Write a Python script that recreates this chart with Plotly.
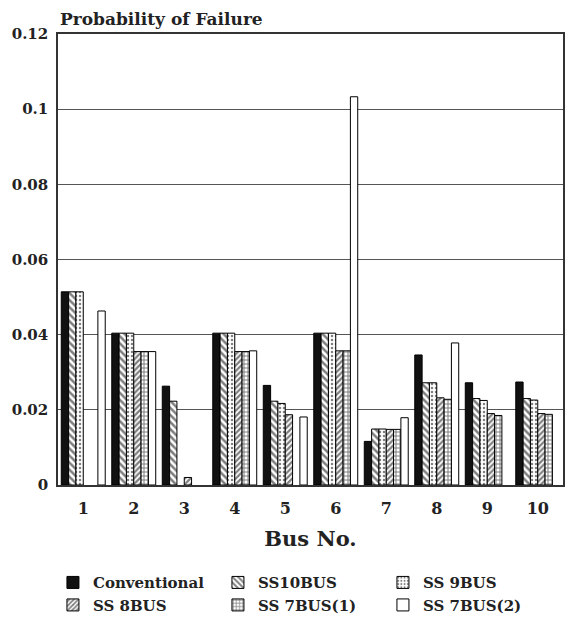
import plotly.graph_objects as go

# Bus numbers on the x axis
buses = ["1", "2", "3", "4", "5", "6", "7", "8", "9", "10"]

# Probability of failure for each bus, one list per system configuration
conventional = [0.0514, 0.0404, 0.0263, 0.0404, 0.0265, 0.0404, 0.0116, 0.0346, 0.0272, 0.0274]
ss10bus = [0.0514, 0.0404, 0.0223, 0.0404, 0.0223, 0.0404, 0.0149, 0.0272, 0.0230, 0.0230]
ss9bus = [0.0514, 0.0404, None, 0.0404, 0.0217, 0.0404, 0.0149, 0.0272, 0.0225, 0.0226]
ss8bus = [None, 0.0355, 0.0020, 0.0355, 0.0187, 0.0357, 0.0148, 0.0232, 0.0190, 0.0190]
ss7bus_1 = [None, 0.0355, None, 0.0355, None, 0.0357, 0.0148, 0.0228, 0.0185, 0.0188]
ss7bus_2 = [0.0463, 0.0355, None, 0.0357, 0.0181, 0.1033, 0.0179, 0.0378, None, None]

y_ticks = [0, 0.02, 0.04, 0.06, 0.08, 0.10, 0.12]
y_tick_text = ["0", "0.02", "0.04", "0.06", "0.08", "0.1", "0.12"]

FONT = "DejaVu Serif"
INK = "#222222"

series = [
    ("Conventional", conventional, dict(color="#111111")),
    ("SS10BUS", ss10bus, dict(color="white",
                              pattern=dict(shape="\\", fgcolor="black", bgcolor="white",
                                           size=5, solidity=0.5))),
    ("SS 9BUS", ss9bus, dict(color="white",
                             pattern=dict(shape=".", fgcolor="black", bgcolor="white",
                                          size=4, solidity=0.3))),
    ("'SS 8BUS", ss8bus, dict(color="white",
                              pattern=dict(shape="/", fgcolor="black", bgcolor="white",
                                           size=4, solidity=0.55))),
    ("SS 7BUS(1)", ss7bus_1, dict(color="white",
                                  pattern=dict(shape="+", fgcolor="black", bgcolor="white",
                                               size=4, solidity=0.45))),
    ("SS 7BUS(2)", ss7bus_2, dict(color="white")),
]

fig = go.Figure()
for name, values, marker in series:
    marker = dict(marker)
    marker["line"] = dict(color="black", width=1)
    fig.add_trace(go.Bar(x=buses, y=values, name=name.replace("'", ""), marker=marker))

fig.update_layout(
    width=568,
    height=630,
    margin=dict(l=58, r=5, t=34, b=145, autoexpand=False),
    paper_bgcolor="white",
    plot_bgcolor="white",
    barmode="group",
    bargap=0.13,
    bargroupgap=0,
    font=dict(family=FONT, size=15, color=INK, weight="bold"),
    showlegend=True,
    legend=dict(
        orientation="h",
        x=-0.01,
        xanchor="left",
        y=-0.18,
        yanchor="top",
        entrywidth=120,
        entrywidthmode="pixels",
        font=dict(family=FONT, size=15, color=INK, weight="bold"),
        traceorder="normal",
    ),
    xaxis=dict(
        type="category",
        showline=True,
        linecolor="#333333",
        linewidth=1.5,
        mirror=True,
        showgrid=False,
        ticks="",
        ticklabelstandoff=8,
        tickfont=dict(family=FONT, size=16, color=INK, weight="bold"),
        title=dict(text="Bus No.", font=dict(family=FONT, size=21, color=INK, weight="bold"),
                   standoff=14),
    ),
    yaxis=dict(
        range=[0, 0.12],
        tickvals=y_ticks,
        ticktext=y_tick_text,
        showline=True,
        linecolor="#333333",
        linewidth=1.5,
        mirror=True,
        showgrid=True,
        gridcolor="#555555",
        gridwidth=1,
        zeroline=False,
        ticks="",
        ticklabelstandoff=5,
        tickfont=dict(family=FONT, size=15, color=INK, weight="bold"),
    ),
    annotations=[
        dict(text="Probability of Failure", xref="paper", yref="paper", x=0, y=1,
             xanchor="left", yanchor="bottom", yshift=3, showarrow=False,
             font=dict(family=FONT, size=17, color=INK, weight="bold")),
    ],
)

fig.write_html("out.html")
